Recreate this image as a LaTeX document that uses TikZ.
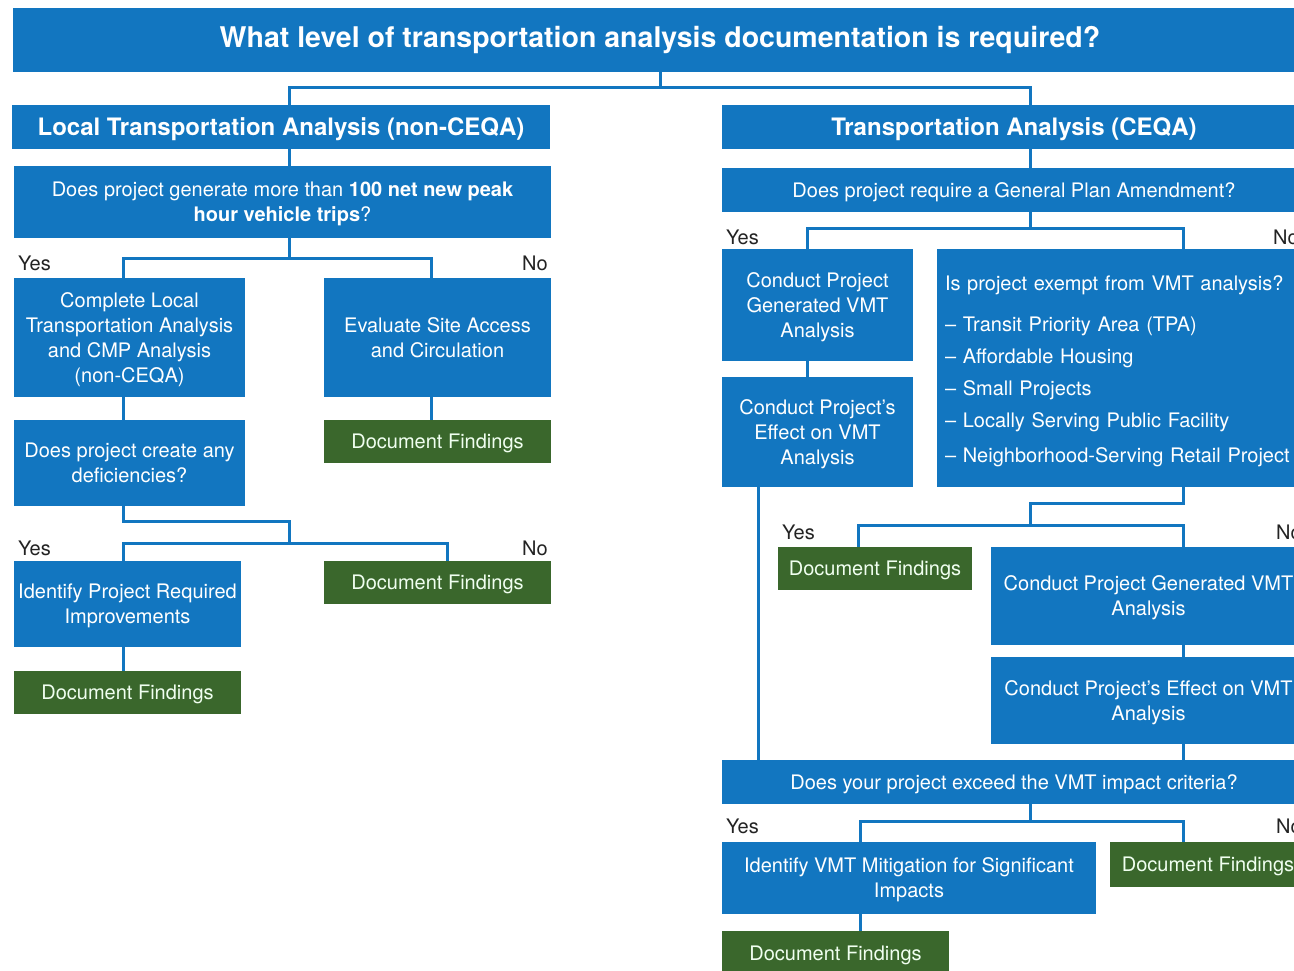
\documentclass[tikz,border=0pt]{standalone}
\usepackage{fontspec}
\setmainfont{TeX Gyre Heros}
\definecolor{flowblue}{RGB}{18,118,192}
\definecolor{flowgreen}{RGB}{58,103,44}
\definecolor{labelgray}{RGB}{35,35,35}
\begin{document}
\begin{tikzpicture}[x=1pt,y=-1pt,
  plainbox/.style={fill=flowblue, draw=none, inner sep=0pt, align=center, text=white},
  box/.style={plainbox, text depth=0pt, font=\fontsize{20}{25}\selectfont},
  headbox/.style={box, font=\bfseries\fontsize{24}{28}\selectfont},
  findbox/.style={box, fill=flowgreen, text=white!94!green},
  link/.style={draw=flowblue, line width=3pt},
  answer/.style={text=labelgray, inner sep=0pt, text depth=0pt,
    font=\fontsize{20}{24}\selectfont},
]
\useasboundingbox (0,0) rectangle (1294,971);
\clip (0,0) rectangle (1294,971);

% ---------- title and branch headers ----------
\node[plainbox, minimum width=1294pt, minimum height=64pt,
  font=\bfseries\fontsize{28.5}{34}\selectfont] (title) at (660,40)
  {What level of transportation analysis documentation is required?};
\node[headbox, minimum width=538pt, minimum height=44pt] (lhead) at (281,127)
  {Local Transportation Analysis (non-CEQA)};
\node[headbox, minimum width=584pt, minimum height=44pt] (rhead) at (1014,127)
  {Transportation Analysis (CEQA)};

% ---------- local (non-CEQA) branch ----------
\node[box, minimum width=537pt, minimum height=72pt] (q1) at (282.5,202)
  {Does project generate more than \textbf{100 net new peak}\\\textbf{hour vehicle trips}?};
\node[box, minimum width=231pt, minimum height=119pt] (a) at (129.5,337.5)
  {Complete Local\\Transportation Analysis\\and CMP Analysis\\(non-CEQA)};
\node[box, minimum width=227pt, minimum height=119pt] (b) at (437.5,337.5)
  {Evaluate Site Access\\and Circulation};
\node[findbox, minimum width=227pt, minimum height=43pt] (df1) at (437.5,441.5)
  {Document Findings};
\node[box, minimum width=231pt, minimum height=86pt] (q2) at (129.5,463)
  {Does project create any\\deficiencies?};
\node[box, minimum width=227pt, minimum height=86pt] (c) at (127.5,604)
  {Identify Project Required\\Improvements};
\node[findbox, minimum width=227pt, minimum height=43pt] (df2) at (437.5,582.5)
  {Document Findings};
\node[findbox, minimum width=227pt, minimum height=43pt] (df3) at (127.5,692.5)
  {Document Findings};

% ---------- CEQA branch ----------
\node[box, minimum width=584pt, minimum height=44pt] (q3) at (1014,190)
  {Does project require a General Plan Amendment?};
\node[box, minimum width=191pt, minimum height=112pt] (d) at (817.5,305)
  {Conduct Project\\Generated VMT\\Analysis};
\node[box, minimum width=191pt, minimum height=110pt] (e) at (817.5,432)
  {Conduct Project's\\Effect on VMT\\Analysis};
\node[box, text depth=, minimum width=369pt, minimum height=238pt, text width=353pt,
  inner xsep=8pt, align=left] (f) at (1121.5,368)
  {\rule{0pt}{21pt}Is project exempt from VMT analysis?\\[16pt]
   -- Transit Priority Area (TPA)\\[7pt]
   -- Affordable Housing\\[7pt]
   -- Small Projects\\[7pt]
   -- Locally Serving Public Facility\\[10pt]
   -- Neighborhood-Serving Retail Project};
\node[findbox, minimum width=194pt, minimum height=43pt] (df4) at (875,568.5)
  {Document Findings};
\node[box, minimum width=315pt, minimum height=98pt] (g) at (1148.5,596)
  {Conduct Project Generated VMT\\Analysis};
\node[box, minimum width=315pt, minimum height=87pt] (h) at (1148.5,700.5)
  {Conduct Project's Effect on VMT\\Analysis};
\node[box, minimum width=584pt, minimum height=44pt] (q4) at (1014,782)
  {Does your project exceed the VMT impact criteria?};
\node[box, minimum width=374pt, minimum height=72pt] (i) at (909,878)
  {Identify VMT Mitigation for Significant\\Impacts};
\node[findbox, minimum width=196pt, minimum height=45pt] (df5) at (1208,864.5)
  {Document Findings};
\node[findbox, minimum width=227pt, minimum height=44pt] (df6) at (835.5,953)
  {Document Findings};

% ---------- yes / no labels ----------
\node[answer, anchor=west] (yes1) at (18,263) {Yes};
\node[answer, anchor=east] (no1) at (548,263) {No};
\node[answer, anchor=west] (yes2) at (18,548) {Yes};
\node[answer, anchor=east] (no2) at (548,548) {No};
\node[answer, anchor=west] (yes3) at (726,237) {Yes};
\node[answer, anchor=west] (no3) at (1273,237) {No};
\node[answer, anchor=west] (yes4) at (782,532) {Yes};
\node[answer, anchor=west] (no4) at (1276,532) {No};
\node[answer, anchor=west] (yes5) at (726,826) {Yes};
\node[answer, anchor=west] (no5) at (1276,826) {No};

% ---------- connector columns and rows ----------
\coordinate (lspine) at (289,0);
\coordinate (acol) at (123,0);
\coordinate (bcol) at (431,0);
\coordinate (dcol) at (447,0);
\coordinate (rspine) at (1030,0);
\coordinate (ycol) at (807,0);
\coordinate (ncol) at (1183,0);
\coordinate (ecol) at (758,0);
\coordinate (fdcol) at (858,0);
\coordinate (icol) at (860,0);
\coordinate (t0) at (0,88);
\coordinate (r1) at (0,258);
\coordinate (r2) at (0,521);
\coordinate (r3) at (0,543);
\coordinate (s1) at (0,228);
\coordinate (s2) at (0,503);
\coordinate (s3) at (0,525);
\coordinate (s4) at (0,821);

% ---------- connectors ----------
\draw[link] (title.south) -- (title.south |- t0);
\draw[link] (lhead.north -| lspine) |- (rspine |- t0) -- (rhead.north -| rspine);

\draw[link] (lhead.south -| lspine) -- (q1.north -| lspine);
\draw[link] (q1.south -| lspine) -- (lspine |- r1);
\draw[link] (a.north -| acol) |- (bcol |- r1) -- (b.north -| bcol);
\draw[link] (a.south -| acol) -- (q2.north -| acol);
\draw[link] (b.south -| bcol) -- (df1.north -| bcol);
\draw[link] (q2.south -| acol) |- (lspine |- r2) -- (lspine |- r3);
\draw[link] (c.north -| acol) |- (dcol |- r3) -- (df2.north -| dcol);
\draw[link] (c.south -| acol) -- (df3.north -| acol);

\draw[link] (rhead.south -| rspine) -- (q3.north -| rspine);
\draw[link] (q3.south -| rspine) -- (rspine |- s1);
\draw[link] (d.north -| ycol) |- (ncol |- s1) -- (f.north -| ncol);
\draw[link] (d.south -| ycol) -- (e.north -| ycol);
\draw[link] (e.south -| ecol) -- (q4.north -| ecol);
\draw[link] (f.south -| ncol) |- (rspine |- s2) -- (rspine |- s3);
\draw[link] (df4.north -| fdcol) |- (ncol |- s3) -- (g.north -| ncol);
\draw[link] (g.south -| ncol) -- (h.north -| ncol);
\draw[link] (h.south -| ncol) -- (q4.north -| ncol);
\draw[link] (q4.south -| rspine) -- (rspine |- s4);
\draw[link] (i.north -| icol) |- (ncol |- s4) -- (df5.north -| ncol);
\draw[link] (i.south -| icol) -- (df6.north -| icol);
\end{tikzpicture}
\end{document}
